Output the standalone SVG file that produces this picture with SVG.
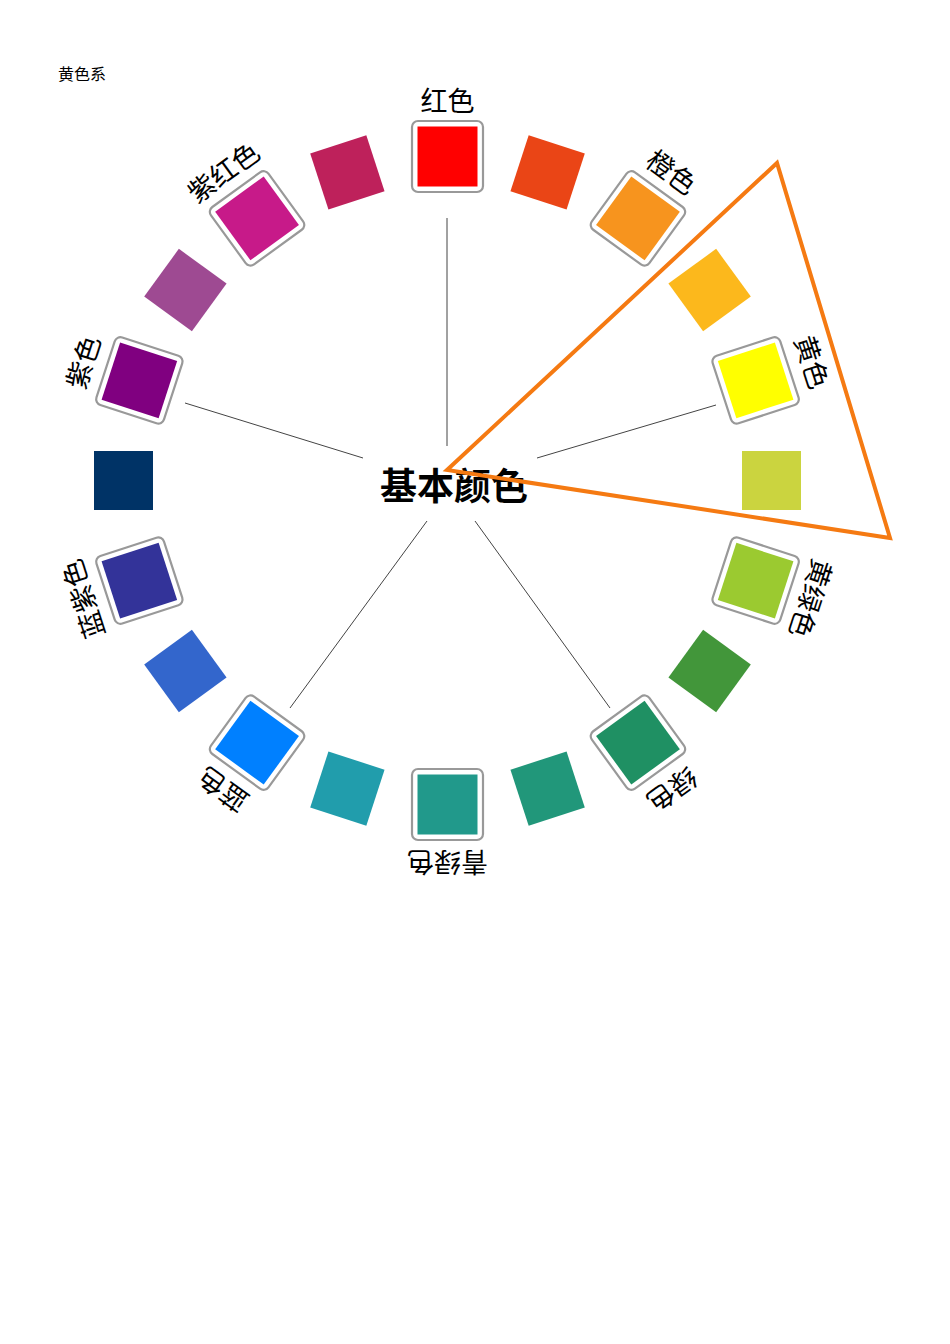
<svg xmlns="http://www.w3.org/2000/svg" width="950" height="1344" viewBox="0 0 950 1344">
<style>
.frame{fill:#fff;stroke:#999;stroke-width:2.2}
.lbl{font-family:"Noto Sans CJK SC","Noto Sans",sans-serif;font-size:27px;fill:#000;text-anchor:middle;dominant-baseline:central}
.ln{stroke:#444;stroke-width:1}
</style>
<rect width="950" height="1344" fill="#fff"/>
<text x="58" y="80" font-family="Noto Sans CJK SC, sans-serif" font-size="16" fill="#000">黄色系</text>
<g id="connectors">
<line class="ln" x1="447" y1="218" x2="447" y2="446"/>
<line class="ln" x1="537" y1="458" x2="716" y2="405"/>
<line class="ln" x1="475" y1="521" x2="610" y2="708"/>
<line class="ln" x1="427" y1="521" x2="290" y2="708"/>
<line class="ln" x1="363" y1="458" x2="185" y2="403"/>
</g>
<g id="n0" transform="rotate(0 447.5 480.5)"><rect class="frame" x="412" y="121" width="71" height="71" rx="6"/><rect x="417.5" y="126.5" width="60" height="60" fill="#FF0000"/><text class="lbl" x="447.5" y="99">红色</text></g>
<g id="n18" transform="rotate(18 447.5 480.5)"><rect x="418" y="127" width="59" height="59" fill="#EA4516"/></g>
<g id="n36" transform="rotate(36 447.5 480.5)"><rect class="frame" x="412" y="121" width="71" height="71" rx="6"/><rect x="417.5" y="126.5" width="60" height="60" fill="#F7941E"/><text class="lbl" x="447.5" y="98">橙色</text></g>
<g id="n54" transform="rotate(54 447.5 480.5)"><rect x="418" y="127" width="59" height="59" fill="#FCB81C"/></g>
<g id="n72" transform="rotate(72 447.5 480.5)"><rect class="frame" x="412" y="121" width="71" height="71" rx="6"/><rect x="417.5" y="126.5" width="60" height="60" fill="#FFFF00"/><text class="lbl" x="447.5" y="96">黄色</text></g>
<g id="n90" transform="rotate(90 447.5 480.5)"><rect x="418" y="127" width="59" height="59" fill="#CBD43F"/></g>
<g id="n108" transform="rotate(108 447.5 480.5)"><rect class="frame" x="412" y="121" width="71" height="71" rx="6"/><rect x="417.5" y="126.5" width="60" height="60" fill="#9BCA30"/><text class="lbl" x="447.5" y="97">黄绿色</text></g>
<g id="n126" transform="rotate(126 447.5 480.5)"><rect x="418" y="127" width="59" height="59" fill="#42963A"/></g>
<g id="n144" transform="rotate(144 447.5 480.5)"><rect class="frame" x="412" y="121" width="71" height="71" rx="6"/><rect x="417.5" y="126.5" width="60" height="60" fill="#1F9063"/><text class="lbl" x="447.5" y="97">绿色</text></g>
<g id="n162" transform="rotate(162 447.5 480.5)"><rect x="418" y="127" width="59" height="59" fill="#21977A"/></g>
<g id="n180" transform="rotate(180 447.5 480.5)"><rect class="frame" x="412" y="121" width="71" height="71" rx="6"/><rect x="417.5" y="126.5" width="60" height="60" fill="#21998B"/><text class="lbl" x="447.5" y="98">青绿色</text></g>
<g id="n198" transform="rotate(198 447.5 480.5)"><rect x="418" y="127" width="59" height="59" fill="#219DAC"/></g>
<g id="n216" transform="rotate(216 447.5 480.5)"><rect class="frame" x="412" y="121" width="71" height="71" rx="6"/><rect x="417.5" y="126.5" width="60" height="60" fill="#0080FF"/><text class="lbl" x="447.5" y="97">蓝色</text></g>
<g id="n234" transform="rotate(234 447.5 480.5)"><rect x="418" y="127" width="59" height="59" fill="#3366CC"/></g>
<g id="n252" transform="rotate(252 447.5 480.5)"><rect class="frame" x="412" y="121" width="71" height="71" rx="6"/><rect x="417.5" y="126.5" width="60" height="60" fill="#333399"/><text class="lbl" x="447.5" y="96">蓝紫色</text></g>
<g id="n270" transform="rotate(270 447.5 480.5)"><rect x="418" y="127" width="59" height="59" fill="#003366"/></g>
<g id="n288" transform="rotate(288 447.5 480.5)"><rect class="frame" x="412" y="121" width="71" height="71" rx="6"/><rect x="417.5" y="126.5" width="60" height="60" fill="#800080"/><text class="lbl" x="447.5" y="96">紫色</text></g>
<g id="n306" transform="rotate(306 447.5 480.5)"><rect x="418" y="127" width="59" height="59" fill="#9E4A92"/></g>
<g id="n324" transform="rotate(324 447.5 480.5)"><rect class="frame" x="412" y="121" width="71" height="71" rx="6"/><rect x="417.5" y="126.5" width="60" height="60" fill="#C71A89"/><text class="lbl" x="447.5" y="98">紫红色</text></g>
<g id="n342" transform="rotate(342 447.5 480.5)"><rect x="418" y="127" width="59" height="59" fill="#BE215B"/></g>
<g id="center"><text x="454" y="484" font-family="Noto Sans CJK SC, sans-serif" font-size="37" font-weight="bold" text-anchor="middle" dominant-baseline="central" fill="#000">基本颜色</text></g>
<g id="triangle"><polygon points="447,470 777,163 890,538" fill="none" stroke="#F57A12" stroke-width="4" stroke-linejoin="miter"/></g>
</svg>
